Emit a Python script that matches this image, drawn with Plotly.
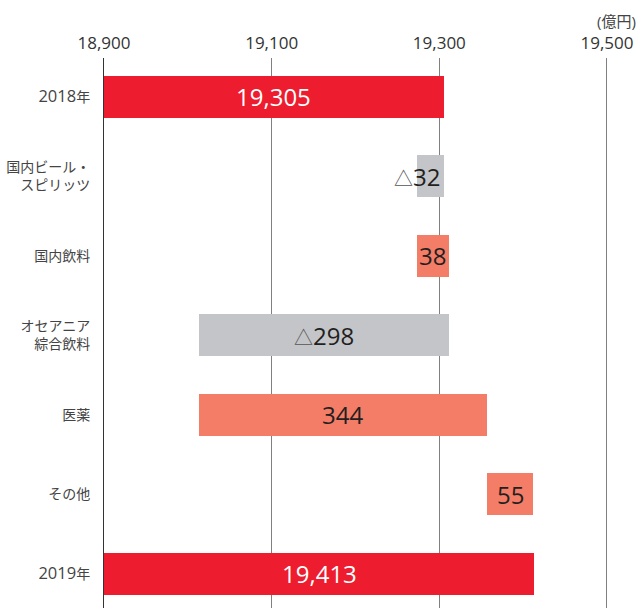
import plotly.graph_objects as go

categories = ["2018年", "国内ビール・<br>スピリッツ", "国内飲料", "オセアニア<br>綜合飲料", "医薬", "その他", "2019年"]
measures = ["absolute", "relative", "relative", "relative", "relative", "relative", "absolute"]
values = [19305, -32, 38, -298, 344, 55, 19413]
tick_vals = [18900, 19100, 19300, 19500]
tick_text = ["18,900", "19,100", "19,300", "19,500"]
unit_label = "(億円)"

RED = "#ED1C2E"
GRAY = "#C4C5C9"
SALMON = "#F47D67"

bases, lengths, colors, labels = [], [], [], []
running = 0
for m, v in zip(measures, values):
    if m == "absolute":
        bases.append(0)
        lengths.append(v)
        colors.append(RED)
        labels.append(f"{v:,}")
        running = v
    else:
        bases.append(running)
        lengths.append(v)
        colors.append(SALMON if v > 0 else GRAY)
        labels.append(f"{v}" if v > 0 else f"<span style='font-size:19px;color:#555'>△</span>{abs(v)}")
        running = running + v

# category tick text: year digits set a bit larger like the original typeface
cat_text = []
for c in categories:
    if c.endswith("年") and c[:-1].isdigit():
        cat_text.append(f"<span style='font-size:16.5px'>{c[:-1]}</span>年")
    else:
        cat_text.append(c)

fig = go.Figure()
fig.add_trace(go.Bar(
    y=categories, x=lengths, base=bases, orientation="h",
    marker=dict(color=colors, line=dict(width=0)),
    width=0.53, hoverinfo="skip",
))

FONT = "Open Sans, Noto Sans CJK JP, sans-serif"
for i, (m, v, b, lab) in enumerate(zip(measures, values, bases, labels)):
    if m == "absolute":
        lo, hi = 18900, v
        fc = "white"
    else:
        lo, hi = min(b, b + v), max(b, b + v)
        fc = "#231F20"
    if m != "absolute" and v < 0 and abs(v) < 60:
        fig.add_annotation(x=hi, y=categories[i], text=lab, showarrow=False,
                           xanchor="right", xshift=-2,
                           font=dict(size=24, color=fc, family=FONT))
    else:
        fig.add_annotation(x=(lo + hi) / 2, y=categories[i], text=lab, showarrow=False,
                           xanchor="center",
                           font=dict(size=24, color=fc, family=FONT))

fig.add_annotation(xref="paper", yref="paper", x=1, y=1, yshift=37, xanchor="right",
                   yanchor="middle", text=unit_label, showarrow=False,
                   font=dict(size=15, color="#444", family=FONT))

fig.update_layout(
    width=638, height=608,
    margin=dict(l=104, r=0, t=58, b=0, autoexpand=False),
    paper_bgcolor="white", plot_bgcolor="white",
    showlegend=False,
    font=dict(family=FONT, color="#333"),
    bargap=0,
)
fig.update_xaxes(
    side="top", range=[18900, 19537], tickvals=tick_vals, ticktext=tick_text,
    showgrid=True, gridcolor="#808080", gridwidth=1, zeroline=False,
    tickfont=dict(size=17, color="#333", family=FONT), ticks="", ticklabelstandoff=5,
    showline=False,
)
fig.update_yaxes(
    type="category", range=[6.43, -0.49], showgrid=False, zeroline=False,
    tickvals=categories, ticktext=cat_text,
    showline=True, linecolor="#333", linewidth=1, ticks="",
    tickfont=dict(size=14, color="#444", family=FONT), ticklabelstandoff=10,
)

fig.write_html("out.html", config={"displayModeBar": False},
               post_script="document.body.style.margin='0';document.body.style.overflow='hidden';document.documentElement.style.overflow='hidden';")
